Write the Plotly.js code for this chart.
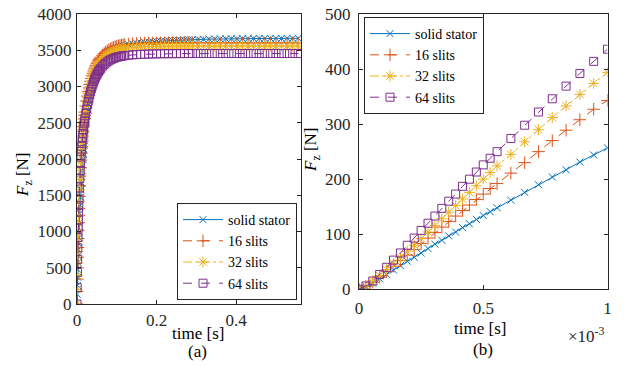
<!DOCTYPE html>
<html>
<head>
<meta charset="utf-8">
<script src="https://cdn.plot.ly/plotly-3.0.1.min.js"></script>
<style>html,body{margin:0;padding:0;background:#fff;}#chart{width:626px;height:366px;}</style>
</head>
<body>
<div id="chart"></div>
<script>
// ---------- data ----------
const seriesNames = ["solid stator", "16 slits", "32 slits", "64 slits"];

// (a) full transient, time in s
const timeA = [0,0.0005,0.001,0.0015,0.002,0.0025,0.003,0.0035,0.004,0.0045,0.005,
0.006,0.007,0.008,0.009,0.010,0.011,0.012,0.013,0.014,0.015,0.016,0.017,0.018,0.019,0.020,
0.022,0.024,0.026,0.028,0.030,0.032,0.034,0.036,0.038,0.040,0.042,0.044,0.046,0.048,0.050,0.052,0.054,0.056,0.058,0.060,
0.064,0.068,0.072,0.076,0.080,0.084,0.088,0.092,0.096,0.100,0.104,0.108,0.112,0.116,0.120,
0.13,0.14,0.15,0.16,0.17,0.18,0.19,0.20,0.21,0.22,0.23,0.24,0.25,0.26,0.27,0.28,0.29,
0.304,0.318,0.332,0.346,0.360,0.374,0.388,0.402,0.416,0.430,0.444,0.458,0.472,0.486,0.500,0.514,0.528,0.542,0.556];

const solidA = [0,134,257,370,475,573,665,752,834,912,986,
1124,1250,1366,1474,1575,1669,1757,1840,1918,1992,2062,2128,2191,2251,2308,
2414,2510,2597,2676,2748,2814,2874,2929,2979,3025,3067,3106,3142,3175,3205,3233,3259,3283,3305,3325,
3361,3392,3419,3442,3462,3479,3494,3507,3519,3529,3538,3546,3553,3559,3565,
3577,3587,3595,3602,3608,3613,3618,3622,3626,3629,3632,3635,3637,3640,3642,3644,3646,
3649,3651,3653,3654,3656,3657,3658,3659,3660,3661,3662,3662,3663,3663,3664,3664,3665,3665,3665];

const slits16A = [0,173,343,500,645,779,903,1018,1125,1224,1317,
1485,1633,1764,1881,1986,2081,2167,2245,2317,2383,2444,2500,2552,2601,2646,
2729,2802,2868,2927,2980,3028,3072,3112,3149,3183,3214,3243,3269,3293,3315,3336,3355,3373,3389,3404,
3431,3454,3474,3491,3506,3519,3530,3540,3548,3555,3561,3567,3571,3575,3579,
3586,3591,3594,3596,3598,3599,3600,3600,3601,3601,3601,3602,3602,3602,3602,3602,3602,
3602,3602,3602,3602,3602,3602,3602,3602,3602,3602,3602,3602,3602,3602,3602,3602,3602,3602,3602];

const slits32A = [0,200,394,568,724,866,995,1112,1220,1319,1411,
1575,1716,1840,1950,2048,2136,2215,2287,2352,2412,2467,2518,2565,2609,2650,
2725,2791,2850,2903,2951,2995,3035,3072,3106,3137,3166,3193,3218,3241,3262,3282,3300,3317,3333,3348,
3375,3398,3418,3435,3450,3463,3474,3484,3493,3500,3507,3513,3518,3522,3526,
3534,3540,3544,3547,3550,3552,3553,3554,3555,3555,3556,3556,3557,3557,3557,3558,3558,
3558,3558,3558,3558,3558,3558,3558,3558,3558,3558,3558,3558,3558,3558,3558,3558,3558,3558,3558];

const slits64A = [0,226,436,615,775,918,1045,1160,1265,1360,1447,
1600,1730,1842,1940,2027,2105,2175,2239,2297,2350,2399,2444,2486,2525,2562,
2629,2689,2743,2792,2837,2885,2928,2967,3003,3036,3066,3094,3120,3144,3166,3186,3205,3222,3238,3253,
3280,3303,3323,3340,3355,3368,3379,3389,3397,3404,3410,3415,3419,3423,3426,
3432,3437,3440,3443,3445,3447,3449,3450,3451,3452,3452,3453,3453,3454,3454,3454,3455,
3455,3455,3455,3455,3455,3455,3455,3455,3455,3455,3455,3455,3455,3455,3455,3455,3455,3455,3455];

// (b) first millisecond, time in ms (axis shown x 10^-3 s)
const timeB = [0,0.0278,0.0556,0.0833,0.1111,0.1389,0.1667,0.1944,0.2222,0.25,0.2778,0.3056,0.3333,0.3611,0.3889,
0.4167,0.4444,0.4722,0.5,0.5278,0.5556,0.6111,0.6667,0.7222,0.7778,0.8333,0.8889,0.9444,1.0];
const solidB   = [0,4,11,19,27,35,43,51,58,66,74,82,89,97,104,112,119,127,134,141,148,162,176,190,204,217,231,244,257];
const slits16B = [0,5,13,22,32,42,52,62,72,83,93,103,113,123,133,143,153,163,173,183,192,211,230,250,270,289,308,327,343];
const slits32B = [0,6,15,25,36,47,58,69,80,92,104,116,128,140,152,164,176,188,200,212,224,245,268,290,312,333,354,374,394];
const slits64B = [0,6,15,27,40,53,66,80,93,107,120,133,147,160,173,187,200,213,226,238,250,274,298,322,346,369,392,414,436];

const ticksAx = [0, 0.2, 0.4], ticksAxText = ["0", "0.2", "0.4"];
const ticksBx = [0, 0.5, 1], ticksBxText = ["0", "0.5", "1"];

// ---------- styles ----------
const colors = ["#0072BD", "#D95319", "#EDB120", "#7E2F8E"];
const dashes = ["solid", "dash", "dashdot", "dash"];
const symbols = ["x-thin-open", "cross-thin-open", "asterisk-open", "square-open"];
const sizes = [7, 9, 9, 8];
const FONT = "Liberation Serif";
const AX = "#262626";

const dataA = [solidA, slits16A, slits32A, slits64A];
const dataB = [solidB, slits16B, slits32B, slits64B];

const traces = [];
function mk(x, y, i, xa, ya, lg) {
  return {
    x: x, y: y, type: "scatter", mode: "lines+markers", name: seriesNames[i],
    xaxis: xa, yaxis: ya, legend: lg, cliponaxis: true,
    line: {color: colors[i], width: 1, dash: dashes[i]},
    marker: {symbol: symbols[i], size: sizes[i], color: colors[i],
             line: {color: colors[i], width: 1}}
  };
}
for (let i = 0; i < 4; i++) traces.push(mk(timeA, dataA[i], i, "x", "y", "legend"));
for (let i = 0; i < 4; i++) traces.push(mk(timeB, dataB[i], i, "x2", "y2", "legend2"));

const W = 626, H = 366;
const px = v => v / W, py = v => (H - v) / H;

function axis(extra) {
  return Object.assign({
    showline: true, mirror: "ticks", ticks: "inside", ticklen: 4, tickwidth: 1,
    linecolor: AX, linewidth: 1, tickcolor: AX, showgrid: false, zeroline: false,
    tickfont: {family: FONT, size: 17, color: AX}, automargin: false, fixedrange: true
  }, extra);
}

const legendStyle = {
  bgcolor: "#ffffff", bordercolor: AX, borderwidth: 1,
  font: {family: FONT, size: 14, color: "#000"}, itemwidth: 40,
  tracegroupgap: 0
};

const annFont = {family: FONT, size: 17, color: "#000"};
const ann = (t, x, y, opt) => Object.assign({text: t, x: px(x), y: py(y), xref: "paper", yref: "paper",
  showarrow: false, xanchor: "center", yanchor: "middle", font: annFont}, opt || {});
const yTitleFont = {family: FONT, size: 17, color: "#000"};

const layout = {
  width: W, height: H, margin: {l: 0, r: 0, t: 0, b: 0},
  paper_bgcolor: "#fff", plot_bgcolor: "#fff", showlegend: true,
  font: {family: FONT},
  xaxis: axis({domain: [px(77), px(301)], range: [0, 0.563], tickvals: ticksAx, ticktext: ticksAxText,
               anchor: "y", ticklabelstandoff: 1}),
  yaxis: axis({domain: [py(304), py(14)], range: [0, 4000], dtick: 500, anchor: "x", ticklabelstandoff: 1}),
  xaxis2: axis({domain: [px(359), px(607.5)], range: [0, 1], tickvals: ticksBx, ticktext: ticksBxText,
                anchor: "y2", ticklabelstandoff: 3}),
  yaxis2: axis({domain: [py(289.3), py(14)], range: [0, 500], dtick: 100, anchor: "x2", ticklabelstandoff: 4}),
  legend: Object.assign({x: px(297), y: py(300), xanchor: "right", yanchor: "bottom"}, legendStyle),
  legend2: Object.assign({x: px(364), y: py(17), xanchor: "left", yanchor: "top"}, legendStyle),
  annotations: [
    ann("time [s]", 197.5, 333),
    ann("time [s]", 480, 328),
    ann("(a)", 197.5, 351),
    ann("(b)", 483, 349),
    ann("×10<sup>-3</sup>", 607, 335, {xanchor: "right", font: {family: FONT, size: 17, color: AX}}),
    ann("<i>F</i><sub>z</sub> [N]", 24, 175, {textangle: -90, font: yTitleFont}),
    ann("<i>F</i><sub>z</sub> [N]", 312, 150, {textangle: -90, font: yTitleFont})
  ]
};

Plotly.newPlot("chart", traces, layout, {staticPlot: true, displayModeBar: false});
</script>
</body>
</html>
